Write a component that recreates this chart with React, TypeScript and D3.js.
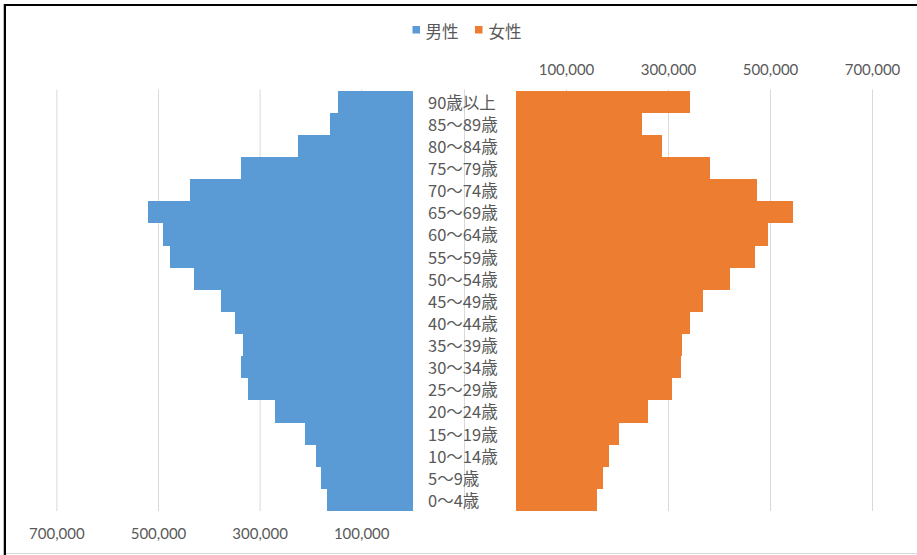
import React from "react";
import * as d3 from "d3";

// Age groups, youngest first
const categories = [
  "0〜4歳", "5〜9歳", "10〜14歳", "15〜19歳", "20〜24歳", "25〜29歳",
  "30〜34歳", "35〜39歳", "40〜44歳", "45〜49歳", "50〜54歳", "55〜59歳",
  "60〜64歳", "65〜69歳", "70〜74歳", "75〜79歳", "80〜84歳", "85〜89歳", "90歳以上",
];

// Population by age group
const male = [
  169000, 181000, 190000, 211000, 271000, 324000, 337000, 334000, 350000, 376000,
  430000, 477000, 492000, 521000, 438000, 337000, 225000, 162000, 146000,
];
const female = [
  160000, 171000, 183000, 203000, 260000, 307000, 324000, 326000, 343000, 368000,
  421000, 470000, 496000, 544000, 474000, 382000, 287000, 249000, 342000,
];

const tickValues = [100000, 300000, 500000, 700000];
const seriesNames = ["男性", "女性"];
const seriesColors = ["#5B9BD5", "#ED7D31"];

const W = 917;
const H = 555;
const TOP = 90.7;
const BOTTOM = 511;
const GRID_TOP = 89.5;

export default function App() {
  const fmt = d3.format(",");
  const y = d3
    .scaleBand<string>()
    .domain([...categories].reverse())
    .range([TOP, BOTTOM])
    .padding(0);

  const xL = d3.scaleLinear().domain([0, 800000]).range([412.5, 412.5 - 406.4]);
  const xR = d3.scaleLinear().domain([0, 800000]).range([515.5, 515.5 + 408]);

  const jp = "'Noto Sans CJK JP', 'Noto Sans', sans-serif";
  const num = "Lato, 'Noto Sans', sans-serif";
  const textColor = "#595959";
  const gridColor = "#D9D9D9";

  return (
    <svg
      width={W}
      height={H}
      style={{ position: "absolute", left: 0, top: 0, background: "#fff" }}
    >
      <rect x={0} y={0} width={W} height={H} fill="#fff" />

      {/* gridlines */}
      {tickValues.map((t) => (
        <line
          key={"gl" + t}
          x1={xL(t)}
          x2={xL(t)}
          y1={GRID_TOP}
          y2={BOTTOM}
          stroke={gridColor}
          strokeWidth={1}
        />
      ))}
      {[-100000, ...tickValues].map((t) => (
        <line
          key={"gr" + t}
          x1={xR(t)}
          x2={xR(t)}
          y1={GRID_TOP}
          y2={BOTTOM}
          stroke={gridColor}
          strokeWidth={1}
        />
      ))}

      {/* bars */}
      <g shapeRendering="crispEdges">
        {categories.map((c, i) => (
          <rect
            key={"m" + c}
            x={xL(male[i])}
            y={y(c)}
            width={xL(0) - xL(male[i])}
            height={y.bandwidth()}
            fill={seriesColors[0]}
          />
        ))}
        {categories.map((c, i) => (
          <rect
            key={"f" + c}
            x={xR(0)}
            y={y(c)}
            width={xR(female[i]) - xR(0)}
            height={y.bandwidth()}
            fill={seriesColors[1]}
          />
        ))}
      </g>

      {/* category labels */}
      {categories.map((c) => (
        <text
          key={"t" + c}
          x={428}
          y={(y(c) as number) + y.bandwidth() / 2}
          dominantBaseline="central"
          fontFamily={jp}
          fontSize={16.5}
          fill={textColor}
        >
          {c}
        </text>
      ))}

      {/* axis labels */}
      {tickValues.map((t) => (
        <text
          key={"bl" + t}
          x={xL(t)}
          y={533}
          textAnchor="middle"
          dominantBaseline="central"
          fontFamily={num}
          fontSize={15}
          fill={textColor}
        >
          {fmt(t)}
        </text>
      ))}
      {tickValues.map((t) => (
        <text
          key={"tr" + t}
          x={xR(t)}
          y={69}
          textAnchor="middle"
          dominantBaseline="central"
          fontFamily={num}
          fontSize={15}
          fill={textColor}
        >
          {fmt(t)}
        </text>
      ))}

      {/* legend */}
      <g>
        <rect x={412.5} y={26} width={7.5} height={7.5} fill={seriesColors[0]} />
        <text x={425.5} y={30.5} dominantBaseline="central" fontFamily={jp} fontSize={16.5} fill={textColor}>
          {seriesNames[0]}
        </text>
        <rect x={475} y={26} width={7.5} height={7.5} fill={seriesColors[1]} />
        <text x={488.5} y={30.5} dominantBaseline="central" fontFamily={jp} fontSize={16.5} fill={textColor}>
          {seriesNames[1]}
        </text>
      </g>

      {/* frame */}
      <line x1={4} x2={W} y1={5} y2={5} stroke="#000" strokeWidth={2} />
      <line x1={5} x2={5} y1={4} y2={H} stroke="#000" strokeWidth={2} />
      <line x1={3.5} x2={3.5} y1={4} y2={H} stroke="#bbb" strokeWidth={1} />
      <line x1={6} x2={W} y1={553.5} y2={553.5} stroke={gridColor} strokeWidth={1} />
    </svg>
  );
}
